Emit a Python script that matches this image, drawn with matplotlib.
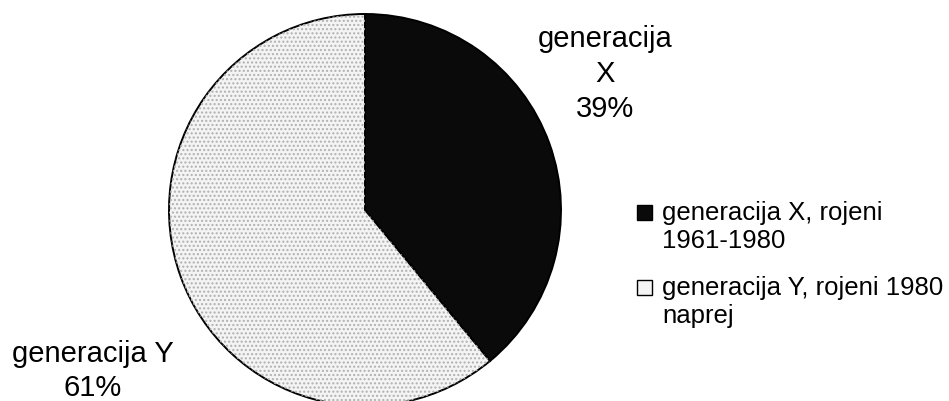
import matplotlib.pyplot as plt
from matplotlib.patches import Rectangle

plt.rcParams['font.family'] = ['Liberation Sans', 'DejaVu Sans']

# shares of the two generations
labels = ["generacija\nX", "generacija Y"]
shares = [39, 61]
legend_labels = ["generacija X, rojeni\n1961-1980", "generacija Y, rojeni 1980\nnaprej"]
colors = ['#0a0a0a', '#f4f4f4']

W, H = 949, 401
fig = plt.figure(figsize=(W / 100, H / 100), dpi=100)
cx, cy, r = 365, 210, 196
ax = fig.add_axes([(cx - r) / W, (H - cy - r) / H, 2 * r / W, 2 * r / H])

wedges, _ = ax.pie(shares, colors=colors, startangle=90, counterclock=False,
                   radius=1, wedgeprops=dict(edgecolor='black', linewidth=1.4))
for w in wedges:
    w.set_clip_on(False)

# dotted texture over the light slice
over, _ = ax.pie(shares, colors=['none', 'none'], startangle=90, counterclock=False,
                 radius=1, wedgeprops=dict(edgecolor='#b0b0b0', linewidth=0, hatch='....'))
over[0].set_hatch('')
for w in over:
    w.set_clip_on(False)
ax.set_xlim(-1, 1)
ax.set_ylim(-1, 1)
ax.set_aspect('equal')
ax.axis('off')

# slice labels
fig.text(605 / W, 1 - 74 / H, f"{labels[0]}\n{shares[0]}%",
         ha='center', va='center', fontsize=21, linespacing=1.32)
fig.text(93 / W, 1 - 371 / H, f"{labels[1]}\n{shares[1]}%",
         ha='center', va='center', fontsize=21, linespacing=1.3)

# legend drawn by hand: square + two-line label
for i, (lab, col) in enumerate(zip(legend_labels, colors)):
    top = 205 + i * 75
    fig.patches.append(Rectangle((637 / W, 1 - (top + 15) / H), 15 / W, 15 / H,
                                 transform=fig.transFigure, facecolor=col,
                                 edgecolor='black', linewidth=1.0))
    fig.text(662 / W, 1 - (top - 4) / H, lab, ha='left', va='top',
             fontsize=18.5, linespacing=1.2)

fig.savefig("out.png", dpi=100)
